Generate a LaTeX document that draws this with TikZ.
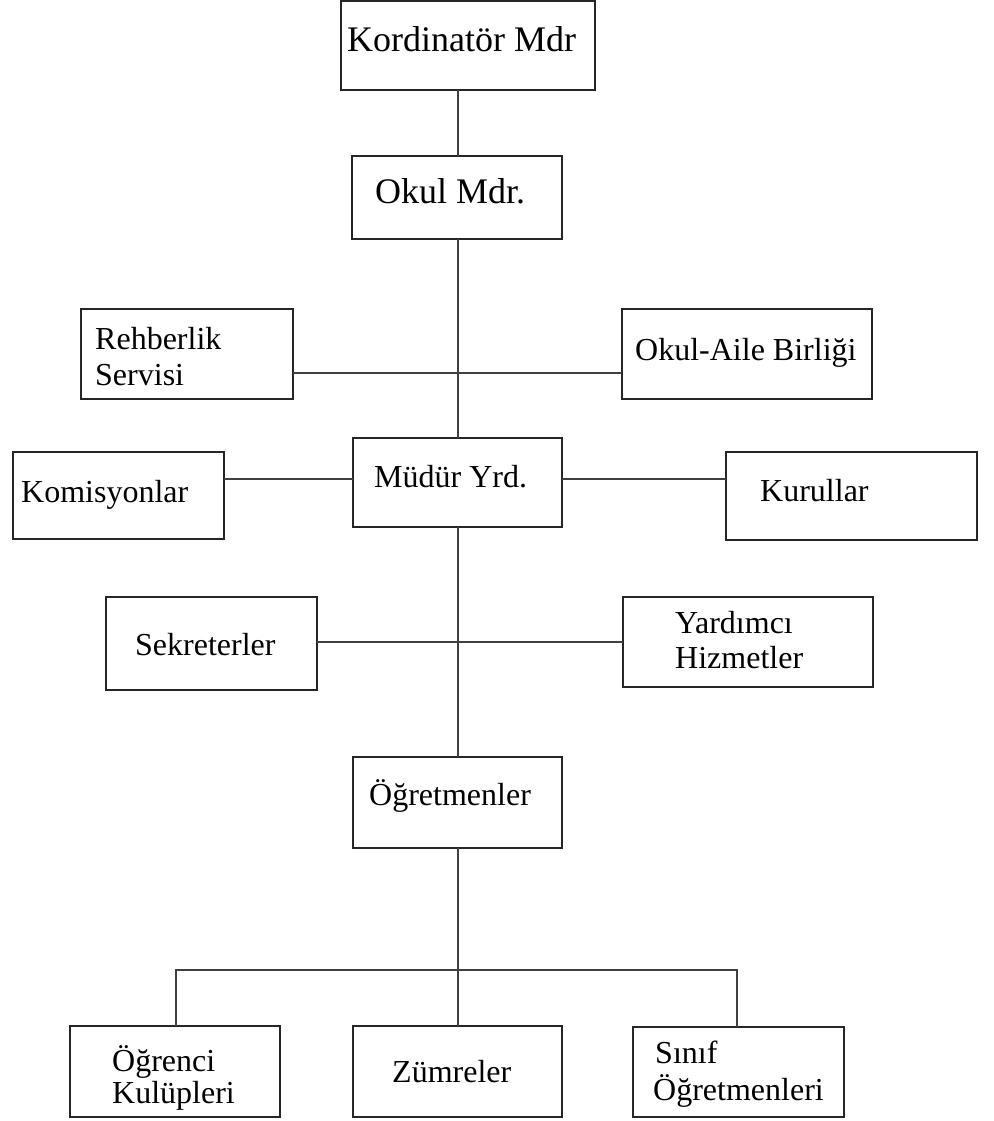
\documentclass[tikz,border=0pt]{standalone}
\usepackage{fontspec}
\setmainfont{Liberation Serif}
\begin{document}
\begin{tikzpicture}[x=1pt,y=-1pt,
  box/.style={draw=black!85, line width=1.8pt, rectangle, inner sep=0pt, outer sep=0pt, anchor=north west},
  big/.style={anchor=base west, inner sep=0pt, font=\fontsize{36}{40}\selectfont},
  lbl/.style={anchor=base west, inner sep=0pt, font=\fontsize{32}{36}\selectfont},
  link/.style={draw=black!75, line width=1.8pt}]
\useasboundingbox[fill=white] (0,0) rectangle (993,1121);

% boxes
\node[box, minimum width=254pt, minimum height=89pt] (kord)    at (341,1)    {};
\node[box, minimum width=210pt, minimum height=83pt] (okul)    at (352,156)  {};
\node[box, minimum width=212pt, minimum height=90pt] (rehb)    at (81,309)   {};
\node[box, minimum width=250pt, minimum height=90pt] (aile)    at (622,309)  {};
\node[box, minimum width=211pt, minimum height=87pt] (komis)   at (13,452)   {};
\node[box, minimum width=209pt, minimum height=89pt] (mudur)   at (353,438)  {};
\node[box, minimum width=251pt, minimum height=88pt] (kurul)   at (726,452)  {};
\node[box, minimum width=211pt, minimum height=93pt] (sekr)    at (106,597)  {};
\node[box, minimum width=250pt, minimum height=90pt] (yard)    at (623,597)  {};
\node[box, minimum width=209pt, minimum height=91pt] (ogret)   at (353,757)  {};
\node[box, minimum width=210pt, minimum height=91pt] (ogrenci) at (70,1026)  {};
\node[box, minimum width=209pt, minimum height=91pt] (zumre)   at (353,1026) {};
\node[box, minimum width=211pt, minimum height=90pt] (sinif)   at (633,1027) {};

% labels
\node[big] (t-kord)  at (347,52)  {Kordinatör Mdr};
\node[big] (t-okul)  at (375,203) {Okul Mdr.};
\node[lbl] (t-rehb1) at (95,349)  {Rehberlik};
\node[lbl] (t-rehb2) at (95,385)  {Servisi};
\node[lbl] (t-aile)  at (635,360) {Okul-Aile Birliği};
\node[lbl] (t-komis) at (21,502)  {Komisyonlar};
\node[lbl] (t-mudur) at (374,487) {Müdür Yrd.};
\node[lbl] (t-kurul) at (760,501) {Kurullar};
\node[lbl] (t-sekr)  at (135,655) {Sekreterler};
\node[lbl] (t-yard1) at (675,633) {Yardımcı};
\node[lbl] (t-yard2) at (675,668) {Hizmetler};
\node[lbl] (t-ogret) at (369,805) {Öğretmenler};
\node[lbl] (t-ogr1)  at (112,1071) {Öğrenci};
\node[lbl] (t-ogr2)  at (112,1103) {Kulüpleri};
\node[lbl] (t-zumre) at (392,1082) {Zümreler};
\node[lbl] (t-sin1)  at (655,1063) {Sınıf};
\node[lbl] (t-sin2)  at (653,1100) {Öğretmenleri};

% connector guides
\coordinate (spine) at (458,0);
\coordinate (busL) at (176,970);
\coordinate (busM) at (458,970);
\coordinate (busR) at (737,970);
\coordinate (rrow) at (0,373);
\coordinate (krow) at (0,479);
\coordinate (srow) at (0,642);

% main chain
\draw[link] (kord.south -| spine) -- (okul.north -| spine);
\draw[link] (okul.south -| spine) -- (mudur.north -| spine);
\draw[link] (mudur.south -| spine) -- (ogret.north -| spine);
\draw[link] (ogret.south -| spine) -- (busM);

% side branches
\draw[link] (rehb.east |- rrow) -- (aile.west |- rrow);
\draw[link] (komis.east |- krow) -- (mudur.west |- krow);
\draw[link] (mudur.east |- krow) -- (kurul.west |- krow);
\draw[link] (sekr.east |- srow) -- (yard.west |- srow);

% bottom bus
\draw[link] (ogrenci.north -| busL) -- (busL) -- (busR) -- (sinif.north -| busR);
\draw[link] (busM) -- (zumre.north -| busM);
\end{tikzpicture}
\end{document}
